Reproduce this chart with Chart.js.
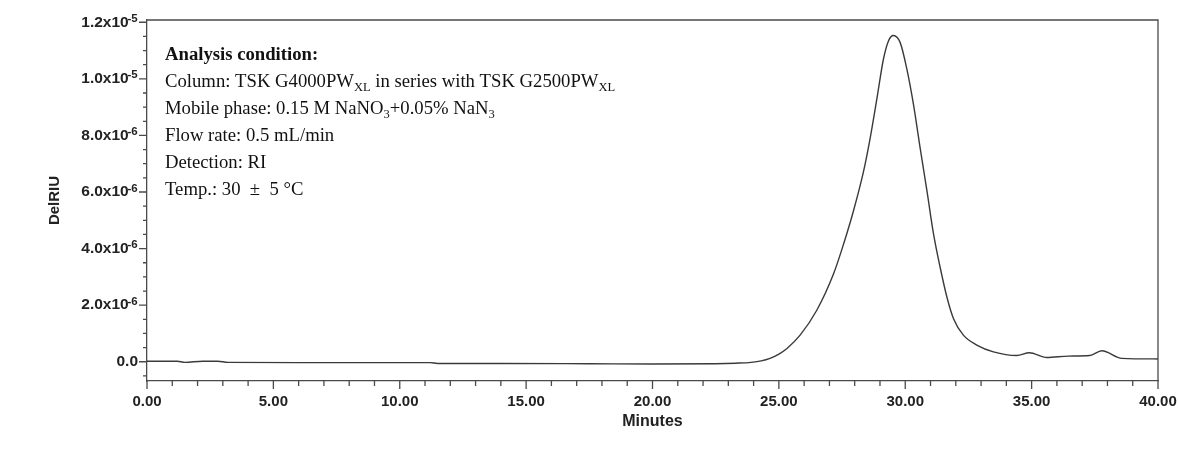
<!DOCTYPE html>
<html>
<head>
<meta charset="utf-8">
<script src="https://cdn.jsdelivr.net/npm/chart.js@4.4.1/dist/chart.umd.min.js"></script>
<style>
  html, body { margin: 0; padding: 0; background: #ffffff; }
  #wrap { width: 1178px; height: 460px; position: relative; }
</style>
</head>
<body>
<div id="wrap"><canvas id="c"></canvas></div>
<script>
// ---- data ----
const times = [0.0, 1.2, 1.5, 2.2, 2.8, 3.2, 6.0, 11.2, 11.5, 14.0, 17.5, 20.0, 22.5, 23.3, 23.9, 24.3,
  24.65, 25.0, 25.32, 25.84, 26.5, 27.16, 27.56, 27.95, 28.35, 28.61, 28.88, 29.14, 29.34, 29.53,
  29.8, 30.06, 30.33, 30.59, 30.86, 31.12, 31.38, 31.65, 31.91, 32.3, 32.83, 33.49, 34.41, 34.91,
  35.6, 36.45, 37.3, 37.78, 38.57, 40.0];
const signal = [0.02e-6, 0.02e-6, -0.02e-6, 0.02e-6, 0.02e-6, -0.02e-6, -0.03e-6, -0.03e-6, -0.06e-6,
  -0.06e-6, -0.07e-6, -0.08e-6, -0.07e-6, -0.05e-6, -0.02e-6, 0.03e-6,
  0.12e-6, 0.27e-6, 0.47e-6, 0.94e-6, 1.82e-6, 3.10e-6, 4.16e-6, 5.33e-6, 6.73e-6, 7.90e-6,
  9.31e-6, 10.71e-6, 11.35e-6, 11.53e-6,
  11.28e-6, 10.36e-6, 9.07e-6, 7.55e-6, 6.03e-6, 4.51e-6, 3.34e-6, 2.28e-6, 1.52e-6, 0.94e-6,
  0.59e-6, 0.35e-6, 0.22e-6, 0.32e-6,
  0.15e-6, 0.20e-6, 0.22e-6, 0.39e-6, 0.12e-6, 0.10e-6];

const xTickValues = [0, 5, 10, 15, 20, 25, 30, 35, 40];
const xTickLabels = ['0.00', '5.00', '10.00', '15.00', '20.00', '25.00', '30.00', '35.00', '40.00'];
const yTickValues = [0, 2e-6, 4e-6, 6e-6, 8e-6, 1.0e-5, 1.2e-5];
const yTickMantissa = ['0.0', '2.0x10', '4.0x10', '6.0x10', '8.0x10', '1.0x10', '1.2x10'];
const yTickExponent = ['', '-6', '-6', '-6', '-6', '-5', '-5'];

const xTitle = 'Minutes';
const yTitle = 'DelRIU';

// annotation lines: each is a list of [text, isSubscript]
const noteTitle = 'Analysis condition:';
const noteLines = [
  [['Column: TSK G4000PW', 0], ['XL', 1], [' in series with TSK G2500PW', 0], ['XL', 1]],
  [['Mobile phase: 0.15 M NaNO', 0], ['3', 1], ['+0.05% NaN', 0], ['3', 1]],
  [['Flow rate: 0.5 mL/min', 0]],
  [['Detection: RI', 0]],
  [['Temp.: 30\u2002\u00B1\u20025 \u00B0C', 0]]
];

const points = times.map((t, i) => ({ x: t, y: signal[i] }));

const AXIS = '#4a4a4a';
const SERIF = '"Liberation Serif", "Times New Roman", serif';

const framePlugin = {
  id: 'frame',
  afterDraw(chart) {
    const ctx = chart.ctx;
    const a = chart.chartArea;
    const xs = chart.scales.x, ys = chart.scales.y;
    ctx.save();
    ctx.strokeStyle = AXIS;
    ctx.lineWidth = 1.3;
    ctx.beginPath();
    ctx.moveTo(a.left, a.top); ctx.lineTo(a.right, a.top); ctx.lineTo(a.right, a.bottom);
    ctx.stroke();
    // x ticks (major every 5, minor every 1)
    ctx.beginPath();
    for (let m = 0; m <= 40; m++) {
      const px = xs.getPixelForValue(m);
      const len = (m % 5 === 0) ? 8 : 5;
      ctx.moveTo(px, a.bottom); ctx.lineTo(px, a.bottom + len);
    }
    // y ticks (major every 2e-6, minor every 0.5e-6)
    for (let k = -1; k <= 24; k++) {
      const py = ys.getPixelForValue(k * 0.5e-6);
      const len = (k % 4 === 0) ? 8 : 4;
      ctx.moveTo(a.left - len, py); ctx.lineTo(a.left, py);
    }
    ctx.stroke();

    // exponents of the y tick labels (superscripts)
    ctx.fillStyle = '#222';
    ctx.textAlign = 'left';
    ctx.textBaseline = 'alphabetic';
    ctx.font = 'bold 11.5px "Liberation Sans", Arial, sans-serif';
    yTickValues.forEach((v, i) => {
      if (!yTickExponent[i]) return;
      const py = ys.getPixelForValue(v);
      ctx.fillText(yTickExponent[i], 127.5, py - 0.5);
    });

    // annotation text
    const x0 = 165;
    ctx.fillStyle = '#111';
    ctx.font = 'bold 18.7px ' + SERIF;
    ctx.fillText(noteTitle, x0, 60);
    const baselines = [87, 113.5, 140.5, 168, 195];
    noteLines.forEach((segs, li) => {
      let x = x0;
      const y = baselines[li];
      segs.forEach(([t, sub]) => {
        ctx.font = (sub ? '12.5px ' : '18.7px ') + SERIF;
        ctx.fillText(t, x, sub ? y + 4 : y);
        x += ctx.measureText(t).width;
      });
    });
    ctx.restore();
  }
};

new Chart(document.getElementById('c'), {
  type: 'line',
  data: {
    datasets: [{
      data: points,
      borderColor: '#3a3a3a',
      borderWidth: 1.4,
      pointRadius: 0,
      fill: false,
      cubicInterpolationMode: 'monotone',
      tension: 0.4
    }]
  },
  options: {
    responsive: true,
    maintainAspectRatio: false,
    animation: false,
    layout: { padding: { left: 0, top: 20, right: 20, bottom: 0 } },
    plugins: { legend: { display: false }, tooltip: { enabled: false } },
    scales: {
      x: {
        type: 'linear',
        min: 0, max: 40,
        afterBuildTicks: s => { s.ticks = xTickValues.map(v => ({ value: v })); },
        afterFit: s => { s.height = 79; s.paddingLeft = 0; s.paddingRight = 0; },
        ticks: {
          autoSkip: false, maxRotation: 0, padding: 12,
          color: '#222',
          font: { family: '"Liberation Sans", Arial, sans-serif', size: 15, weight: 'bold' },
          callback: (v, i) => xTickLabels[i]
        },
        grid: { drawOnChartArea: false, drawTicks: false },
        border: { display: true, color: AXIS, width: 1.3 },
        title: {
          display: true, text: xTitle, color: '#222',
          font: { family: '"Liberation Sans", Arial, sans-serif', size: 16, weight: 'bold' },
          padding: { top: 0, bottom: 29 }
        }
      },
      y: {
        type: 'linear',
        min: -0.68e-6, max: 1.208e-5,
        afterBuildTicks: s => { s.ticks = yTickValues.map(v => ({ value: v })); },
        afterFit: s => { s.width = 147; },
        ticks: {
          autoSkip: false, padding: 9,
          color: '#222',
          font: { family: '"Liberation Sans", Arial, sans-serif', size: 15.5, weight: 'bold' },
          callback: (v, i) => yTickExponent[i] ? yTickMantissa[i] + '\u2009\u2009\u2009' : yTickMantissa[i]
        },
        grid: { drawOnChartArea: false, drawTicks: false },
        border: { display: true, color: AXIS, width: 1.3 },
        title: {
          display: true, text: yTitle, color: '#222',
          font: { family: '"Liberation Sans", Arial, sans-serif', size: 15, weight: 'bold' },
          padding: { top: 46, bottom: 0 }
        }
      }
    }
  },
  plugins: [framePlugin]
});
</script>
</body>
</html>
